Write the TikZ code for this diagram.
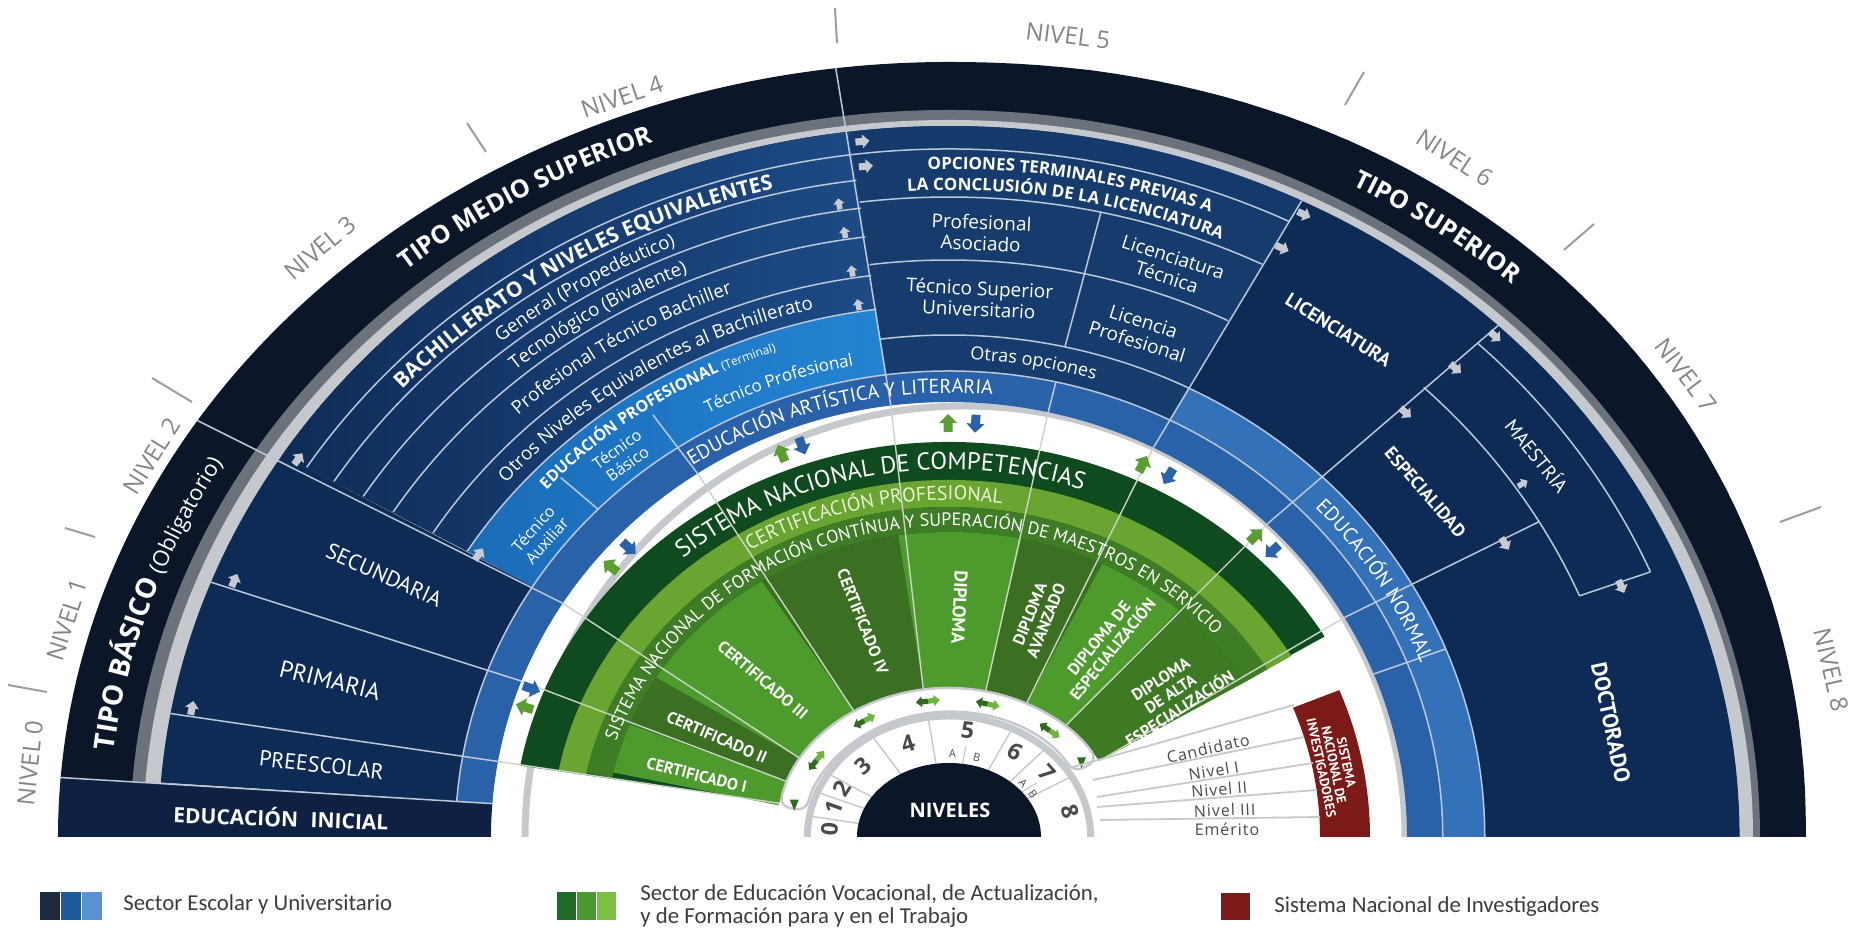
\documentclass[tikz,border=0pt]{standalone}
\usepackage{fontspec}
\setmainfont{Open Sans}
\newfontfamily\myriad{PT Sans}
\newfontfamily\calib{Carlito}
\usetikzlibrary{decorations.text,shapes.geometric}

\definecolor{ringdark}{HTML}{0B1628}
\definecolor{gmid}{HTML}{6B727C}
\definecolor{glight}{HTML}{C5C8CC}
\definecolor{inicial}{HTML}{0E2142}
\definecolor{navy}{HTML}{0E2B56}
\definecolor{bachL}{HTML}{0F2C58}
\definecolor{bachR}{HTML}{1D4B86}
\definecolor{bach}{HTML}{14396B}
\definecolor{cinco}{HTML}{163C6D}
\definecolor{profL}{HTML}{1A6CB8}
\definecolor{profR}{HTML}{2484D2}
\definecolor{blueM}{HTML}{2A62A9}
\definecolor{blueL}{HTML}{3371B8}
\definecolor{linecol}{HTML}{BCC8D8}
\definecolor{glinecol}{HTML}{C9D6C4}
\definecolor{gdark}{HTML}{0F4B1E}
\definecolor{glite}{HTML}{6AA532}
\definecolor{gband}{HTML}{3E7D25}
\definecolor{gsecA}{HTML}{4E9B2D}
\definecolor{gsecB}{HTML}{3B6F22}
\definecolor{gsecC}{HTML}{3E7A24}
\definecolor{sni}{HTML}{7B1A17}
\definecolor{nivgray}{HTML}{858585}
\definecolor{arrgray}{HTML}{C7CBD1}
\definecolor{arrgreen}{HTML}{5A9E32}
\definecolor{arrblue}{HTML}{2A62A9}
\definecolor{dgreenarr}{HTML}{2F6B1F}
\definecolor{lgreenarr}{HTML}{6DB33F}
\definecolor{txtgray}{HTML}{3C3C3C}
\definecolor{numgray}{HTML}{4A4A4A}
\definecolor{cpcol}{HTML}{EAF3D2}
\definecolor{legA}{HTML}{1C2A3F}
\definecolor{legB}{HTML}{1E5B9D}
\definecolor{legC}{HTML}{5B90D2}
\definecolor{legD}{HTML}{1F6A26}
\definecolor{legE}{HTML}{4B9A2F}
\definecolor{legF}{HTML}{7CC043}

% horizontal radius of the blue rings and of the green rings
\pgfmathdeclarefunction{kb}{1}{\pgfmathparse{#1*(0.96+0.00022*#1)}}
\pgfmathdeclarefunction{kg}{1}{\pgfmathparse{#1*(1.2-0.00025*#1)}}
% tangent and radial angle on the ellipse
\pgfmathdeclarefunction{tang}{2}{\pgfmathparse{atan2(-cos(#1),#2*sin(#1))}}
\pgfmathdeclarefunction{radi}{2}{\pgfmathparse{atan2(sin(#1),#2*cos(#1))}}

\newcommand\sect[6]{\fill[#6] (#2:{#1(#4)} and {#4}) arc[start angle=#2,end angle=#3,x radius={#1(#4)},y radius={#4}] -- (#3:{#1(#5)} and {#5}) arc[start angle=#3,end angle=#2,x radius={#1(#5)},y radius={#5}] -- cycle;}
\newcommand\barc[3]{\draw[bline] (#1:{kb(#3)} and {#3}) arc[start angle=#1,end angle=#2,x radius={kb(#3)},y radius={#3}];}
\newcommand\brad[3]{\draw[bline] (#1:{kb(#2)} and {#2}) -- (#1:{kb(#3)} and {#3});}
\newcommand\atext[6]{\path[decorate,decoration={text along path,text color=#5,text align=center,text={#6}}] (#2:{#1(#4)} and {#4}) arc[start angle=#2,end angle=#3,x radius={#1(#4)},y radius={#4}];}
% text on the outer ring: start, end, x radius, y radius, text
\newcommand\otext[5]{\path[decorate,decoration={text along path,text color=white,text align=center,text={#5}}] (#1:#3 and #4) arc[start angle=#1,end angle=#2,x radius=#3,y radius=#4];}

\newcommand\fTipo{\fontsize{12.5}{14}\selectfont\bfseries}
\newcommand\fTipoB{\fontsize{14}{16}\selectfont\bfseries}
\newcommand\fObl{\fontsize{11}{12}\selectfont\mdseries}
\newcommand\fBachH{\fontsize{10.5}{12}\selectfont\bfseries}
\newcommand\fBach{\fontsize{9.3}{11}\selectfont}
\newcommand\fEPb{\fontsize{8}{10}\selectfont\bfseries}
\newcommand\fEPs{\fontsize{6}{7}\selectfont\mdseries}
\newcommand\fTP{\fontsize{8.5}{10}\selectfont}
\newcommand\fOpc{\fontsize{8.5}{10}\selectfont\bfseries}
\newcommand\fOtras{\fontsize{9}{11}\selectfont}
\newcommand\fArt{\myriad\fontsize{10}{12}\selectfont}
\newcommand\fNorm{\myriad\fontsize{10.2}{12}\selectfont}
\newcommand\fSNC{\myriad\fontsize{12.2}{14}\selectfont}
\newcommand\fCP{\myriad\fontsize{9.9}{11}\selectfont}
\newcommand\fSNF{\myriad\fontsize{9}{10}\selectfont}

\tikzset{
  pics/grayarrow/.style={code={\fill[arrgray] (-7,-3.5) -- (0,-3.5) -- (0,-7) -- (7,0) -- (0,7) -- (0,3.5) -- (-7,3.5) -- cycle;}},
  pics/gaparrow/.style={code={\fill[#1] (-9,-4.5) -- (0,-4.5) -- (0,-9) -- (9,0) -- (0,9) -- (0,4.5) -- (-9,4.5) -- cycle;}},
  pics/halfarrow/.style={code={\fill[#1] (0,-2.6) -- (6,-2.6) -- (6,-5.5) -- (12,0) -- (6,5.5) -- (6,2.6) -- (0,2.6) -- cycle;}}
}

\begin{document}
\begin{tikzpicture}[x=0.5pt,y=0.5pt,
  bline/.style={draw=linecol,line width=0.75pt},
  gline/.style={draw=glinecol,line width=0.7pt},
  tick/.style={draw=nivgray!80,line width=1pt},
  nivel/.style={text=nivgray,font=\fontsize{12}{14}\selectfont,inner sep=0pt},
  wtxt/.style={text=white,font=\fontsize{9.5}{10.5}\selectfont,align=center,inner sep=0pt},
  caplab/.style={text=white,font=\myriad\fontsize{11}{13}\selectfont,inner sep=0pt},
  boldlab/.style={text=white,font=\myriad\bfseries\fontsize{10}{12}\selectfont,inner sep=0pt},
  seclab/.style={text=white,font=\myriad\bfseries\fontsize{8.2}{8.8}\selectfont,align=center,inner sep=0pt},
  numlab/.style={text=numgray,font=\bfseries\fontsize{11.5}{12}\selectfont,inner sep=0pt},
  sniline/.style={draw=glight,line width=0.9pt},
  snilab/.style={text=numgray,font=\addfontfeatures{LetterSpace=6}\fontsize{8}{9}\selectfont,inner sep=1pt,anchor=south},
  legtxt/.style={text=txtgray,font=\calib\fontsize{11.4}{11.4}\selectfont,anchor=west,align=left,inner sep=0pt}]
	\useasboundingbox (-949,-92) rectangle (909,837);

	%Shape: outer ring (dark, gray, light gray), wider on the left, fuller on the upper right
	\fill[ringdark] (0,0) -- plot[domain=0:89,samples=60] ({857*abs(cos(\x))^(0.952)},{775*abs(sin(\x))^(0.952)}) -- (0,775) arc[start angle=90,end angle=175.6,x radius=891,y radius=775] -- cycle;
	\fill[gmid] (0,0) -- (811,0) arc[start angle=0,end angle=90,x radius=811,y radius=727] arc[start angle=90,end angle=175.6,x radius=819,y radius=727] -- cycle;
	\fill[glight] (0,0) -- (804,0) arc[start angle=0,end angle=90,x radius=804,y radius=717] arc[start angle=90,end angle=175.6,x radius=806,y radius=717] -- cycle;
	\fill[white] ({kb(435)},0) arc[start angle=0,end angle=180,x radius={kb(435)},y radius=435] -- cycle;
	%Shape: educacion inicial block
	\fill[inicial] (175.6:{kb(435)} and 435) -- (175.6:891 and 775) arc[start angle=175.6,end angle=180,x radius=891,y radius=775] -- ({-kb(435)},0) arc[start angle=180,end angle=175.6,x radius={kb(435)},y radius=435] -- cycle;
	%Shape: light gray separator ring
	\draw[glight,line width=3.5pt] (456,0) arc[start angle=0,end angle=180,x radius=440,y radius=431];

	%Shape: blue cells
	\sect{kb}{147.5}{175.6}{466}{711}{navy}
	\sect{kb}{97.3}{147.5}{532}{711}{left color=bachL,right color=bachR}
	\sect{kb}{97.3}{147.5}{466}{532}{left color=profL,right color=profR}
	\sect{kb}{63.5}{97.3}{466}{711}{cinco}
	\sect{kb}{63.5}{97.3}{688}{711}{bach}
	\sect{kb}{0}{63.5}{502}{711}{navy}
	\sect{kb}{0}{63.5}{466}{502}{blueL}
	\sect{kb}{0}{175.6}{435}{466}{blueM}

	%Straight Lines: arcs between the bands
	\barc{63.5}{147.5}{688}
	\foreach \r in {662,634,605,566,532} {\barc{97.3}{147.5}{\r}}
	\barc{63.5}{97.3}{640}
	\barc{63.5}{97.3}{577}
	\barc{0}{97.3}{502}
	\barc{0}{175.6}{466}
	\barc{22.7}{46}{625}
	\barc{22.7}{46}{687}
	%Straight Lines: radial dividers
	\foreach \a in {175.6,147.5,97.3}
	  \draw[bline] (\a:{kb(435)} and 435) -- (\a:891 and 775);
	\brad{170}{435}{711}
	\brad{159}{435}{711}
	\brad{135.3}{466}{511}
	\brad{123.3}{435}{505}
	\brad{77.5}{435}{466}
	\brad{77.5}{502}{640}
	\brad{63.5}{435}{711}
	\brad{46}{435}{711}
	\brad{30.3}{435}{625}
	\brad{22}{435}{502}
	\brad{22.7}{625}{687}

	%Straight Lines: level ticks
	\foreach \xa/\ya/\xb/\yb in {-941/152/-902/145,-884/309/-854/300,-797/459/-757/435,-482/714/-463/685,-114/829/-112/794,415/765/396/732,645/613/615/587,872/330/831/315}
	  \draw[tick] (\xa,\ya) -- (\xb,\yb);
	% Text Node: levels
	\foreach \x/\y/\t/\n in {-919/74/84/0,-882/217/72/1,-797/381/58/2,-629/589/40/3,-327/740/19/4,119/801/-7/5,506/679/-33/6,737/462/-53/7,882/167/-77/8}
	  \node[nivel,rotate=\t] (nivel\n) at (\x,\y) {NIVEL \n};

	% Text Node: ring titles
	\otext{175.6}{147.5}{841}{741}{|\fTipoB|TIPO BÁSICO |\fObl|(Obligatorio)}
	\otext{135.5}{105.5}{841}{742}{|\fTipo|TIPO MEDIO SUPERIOR}
	\otext{73}{36}{844}{742}{|\fTipo|TIPO SUPERIOR}

	% Text Node: bachillerato bands
	\atext{kb}{143}{99}{667.5}{white}{|\fBachH|BACHILLERATO Y NIVELES EQUIVALENTES}
	\atext{kb}{144.5}{98.5}{641.5}{white}{|\fBach|General (Propedéutico)}
	\atext{kb}{145}{99}{613}{white}{|\fBach|Tecnológico (Bivalente)}
	\atext{kb}{145}{99}{579}{white}{|\fBach|Profesional Técnico Bachiller}
	\atext{kb}{145}{98}{542.5}{white}{|\fBach|Otros Niveles Equivalentes al Bachillerato}
	\atext{kb}{145}{101}{512}{white}{|\fEPb|EDUCACIÓN PROFESIONAL |\fEPs|(Terminal)}
	\atext{kb}{122}{97}{480}{white}{|\fTP|Técnico Profesional}
	% Text Node
	\node[wtxt,font=\fontsize{8}{9}\selectfont,rotate={tang(128.9,1.12)}] (tecbas) at (128.9:{kb(489)} and 489) {Técnico\\Básico};
	% Text Node
	\node[wtxt,font=\fontsize{8}{9}\selectfont,rotate={tang(141.8,1.12)}] (tecaux) at (141.8:{kb(489)} and 489) {Técnico\\Auxiliar};

	% Text Node: nivel 5 block
	\atext{kb}{97.3}{63.5}{668}{white}{|\fOpc|OPCIONES TERMINALES PREVIAS A}
	\atext{kb}{97.3}{63.5}{647}{white}{|\fOpc|LA CONCLUSIÓN DE LA LICENCIATURA}
	\node[wtxt,rotate={tang(87.2,1.12)}] (profasoc) at (87.2:{kb(605)} and 605) {Profesional\\Asociado};
	\node[wtxt,rotate={tang(70.4,1.12)}] (lictec) at (70.4:{kb(605)} and 605) {Licenciatura\\Técnica};
	\node[wtxt,rotate={tang(87,1.12)}] (tsu) at (87:{kb(539)} and 539) {Técnico Superior\\Universitario};
	\node[wtxt,rotate={tang(70.6,1.12)}] (licprof) at (70.6:{kb(536)} and 536) {Licencia\\Profesional};
	\atext{kb}{97.3}{63.5}{477.5}{white}{|\fOtras|Otras opciones}

	% Text Node: inner blue rings
	\atext{kb}{128}{80}{444}{white}{|\fArt|EDUCACIÓN ARTÍSTICA Y LITERARIA}
	\atext{kb}{47}{18}{477}{white}{|\fNorm|EDUCACIÓN NORMAL}

	% Text Node: basic levels
	\node[caplab,rotate={radi(153.3,1.12)-180}] (secundaria) at (153.3:{kb(583)} and 583) {SECUNDARIA};
	\node[caplab,font=\myriad\fontsize{12}{14}\selectfont,rotate={radi(164.6,1.12)-180}] (primaria) at (164.6:{kb(591)} and 591) {PRIMARIA};
	\node[caplab,rotate={radi(172.9,1.12)-180}] (preescolar) at (172.9:{kb(583)} and 583) {PREESCOLAR};
	\node[text=white,font=\bfseries\fontsize{10.5}{12}\selectfont,rotate=-2,inner sep=0pt] (inicialtxt) at (-668,20) {EDUCACIÓN\hspace{0.6em}INICIAL};

	% Text Node: superior levels
	\node[boldlab,font=\myriad\bfseries\fontsize{9.6}{11}\selectfont,rotate={tang(54.9,1.12)}] (licenciatura) at (54.9:{kb(620)} and 620) {LICENCIATURA};
	\node[boldlab,font=\myriad\bfseries\fontsize{9}{11}\selectfont,rotate={tang(38,1.12)}] (especialidad) at (38:{kb(560)} and 560) {ESPECIALIDAD};
	\node[boldlab,font=\myriad\fontsize{9.8}{11}\selectfont,rotate={tang(35.5,1.12)}] (maestria) at (35.5:{kb(657)} and 657) {MAESTRÍA};
	\node[boldlab,font=\myriad\bfseries\fontsize{11}{13}\selectfont,rotate={tang(10.7,1.12)}] (doctorado) at (10.7:{kb(617)} and 617) {DOCTORADO};

	%Shape: gray arrows between levels
	\foreach \a/\r in {169.3/695,158.3/694,147.2/698,147.2/522,96.4/700,96.4/675,62.8/700,62.8/662,45.5/702,45.5/657,45.3/597,29.8/590,22.3/660}
	  \pic[rotate={tang(\a,1.12)}] at (\a:{kb(\r)} and \r) {grayarrow};
	\foreach \a/\r in {99/641,99/612,99/573,99/539,34/632}
	  \pic[rotate={radi(\a,1.12)},scale=0.8] at (\a:{kb(\r)} and \r) {grayarrow};

	%Shape: green fan
	\fill[gdark] (30.5:{kg(150)} and 150) -- (30.5:{kg(395)} and 395) arc[start angle=30.5,end angle=169.6,x radius={kg(395)},y radius=395] -- (167:{kg(150)} and 150) arc[start angle=167,end angle=30.5,x radius={kg(150)},y radius=150] -- cycle;
	\sect{kg}{30.5}{169.2}{330}{357}{glite}
	\sect{kg}{30.5}{168.8}{305}{330}{gband}
	\sect{kg}{158.3}{167.8}{150}{305}{gsecA}
	\sect{kg}{148.5}{158.3}{150}{305}{gsecB}
	\sect{kg}{123}{148.5}{150}{305}{gsecA}
	\sect{kg}{98.5}{123}{150}{305}{gsecB}
	\sect{kg}{77.8}{98.5}{150}{305}{gsecA}
	\sect{kg}{63.5}{77.8}{150}{305}{gsecB}
	\sect{kg}{48}{63.5}{150}{305}{gsecA}
	\sect{kg}{30.5}{48}{150}{305}{gsecC}
	%Straight Lines: dividers through the green
	\foreach \p/\q in {167/170,158.3/159,148.5/147.5,123/123.3,98.5/97.3,77.8/77.5,63.5/63.5,48/46,30.5/30.3}
	  \draw[gline] (\p:{kg(150)} and 150) -- (\q:{kb(435)} and 435);

	% Text Node: green bands
	\atext{kg}{158}{44.6}{367.5}{white}{|\fSNC|SISTEMA NACIONAL DE COMPETENCIAS}
	\atext{kg}{147}{57.8}{337}{cpcol}{|\fCP|CERTIFICACIÓN PROFESIONAL}
	\atext{kg}{172}{31}{311}{white}{|\fSNF|SISTEMA NACIONAL DE FORMACIÓN CONTÍNUA Y SUPERACIÓN DE MAESTROS EN SERVICIO}
	% Text Node: green sectors
	\node[seclab,rotate={radi(164.3,1.14)-180}] (cert1) at (164.3:{kg(229)} and 229) {CERTIFICADO I};
	\node[seclab,rotate={radi(153.8,1.14)-180}] (cert2) at (153.8:{kg(226)} and 226) {CERTIFICADO II};
	\node[seclab,rotate={radi(136,1.14)-180}] (cert3) at (136:{kg(226)} and 226) {CERTIFICADO III};
	\node[seclab,rotate={radi(109.3,1.14)-180}] (cert4) at (109.3:{kg(228)} and 228) {CERTIFICADO IV};
	\node[seclab,font=\myriad\bfseries\fontsize{9.2}{10}\selectfont,rotate={radi(87.7,1.14)-180}] (diploma) at (87.7:{kg(230)} and 230) {DIPLOMA};
	\node[seclab,rotate={radi(70.5,1.14)}] (dipav) at (70.5:{kg(233)} and 233) {DIPLOMA\\AVANZADO};
	\node[seclab,rotate={radi(54.6,1.14)}] (dipesp) at (54.6:{kg(237)} and 237) {DIPLOMA DE\\ESPECIALIZACIÓN};
	\node[seclab,rotate={radi(36.4,1.14)}] (dipalta) at (36.4:{kg(241)} and 241) {DIPLOMA\\DE ALTA\\ESPECIALIZACIÓN};

	%Shape: green and blue arrows in the white gap
	\foreach \g/\b in {161.7/159,139.2/135.7,112/109.2,90.1/86.6,64.3/60.6,46.7/43.7}{
	  \pic[rotate={radi(\g,1.08)}] at (\g:{1.08*414} and 414) {gaparrow=arrgreen};
	  \pic[rotate={radi(\b,1.08)+180}] at (\b:{1.08*414} and 414) {gaparrow=arrblue};
	}

	%Shape: track of double arrows
	\draw[draw=glight,line width=1.2pt,fill=white,rounded corners=5pt] (31:{kg(125)} and 125) arc[start angle=31,end angle=168,x radius={kg(125)},y radius=125] -- (168:{kg(149)} and 149) arc[start angle=168,end angle=31,x radius={kg(149)},y radius=149] -- cycle;
	\foreach \a in {146,122,97.6,76,51}{
	  \pic[rotate={tang(\a,1.17)}] at (\a:{kg(137)} and 137) {halfarrow=lgreenarr};
	  \pic[rotate={tang(\a,1.17)+180}] at (\a:{kg(137)} and 137) {halfarrow=dgreenarr};
	}
	\node[isosceles triangle,fill=dgreenarr,shape border rotate=-90,minimum width=4.5pt,minimum height=4pt,inner sep=0pt] (triL) at (165.5:{kg(137)} and 137) {};
	\node[isosceles triangle,fill=dgreenarr,shape border rotate=-90,minimum width=4.5pt,minimum height=4pt,inner sep=0pt] (triR) at (34:{kg(137)} and 137) {};

	%Shape: numbers ring
	\fill[white] ({kg(121)},0) arc[start angle=0,end angle=180,x radius={kg(121)},y radius=121] -- cycle;
	\foreach \a in {170,158.3,148.5,123,98.5,63.5,47,30}
	  \draw[draw=glight,line width=0.7pt] (\a:{kg(70)} and 70) -- (\a:{kg(121)} and 121);
	\draw[draw=glight,line width=0.6pt] (81:{kg(70)} and 70) -- (81:{kg(92)} and 92);
	\draw[draw=glight,line width=0.6pt] (36:{kg(70)} and 70) -- (36:{kg(92)} and 92);
	\draw[glight,line width=3.5pt] ({kg(121)},0) arc[start angle=0,end angle=180,x radius={kg(121)},y radius=121];
	\fill[ringdark] (92,0) arc[start angle=0,end angle=180,x radius=92,y radius=74] -- cycle;
	% Text Node
	\node[text=white,font=\bfseries\fontsize{10}{12}\selectfont,inner sep=0pt] (niveles) at (1,27) {NIVELES};
	% Text Node: numbers
	\foreach \a/\n/\r in {175.5/0/102,163/1/102,152/2/103,135.5/3/102,110.5/4/100,81.5/5/108,56.5/6/102,37.6/7/105,14/8/106}
	  \node[numlab,rotate={tang(\a,1.17)}] (num\n) at (\a:{kg(\r)} and \r) {\n};
	\foreach \a/\t/\n in {88/A/5a,73.5/B/5b,40.7/A/7a,31/B/7b}
	  \node[text=numgray,font=\fontsize{5.5}{6}\selectfont,inner sep=0pt,rotate={tang(\a,1.17)}] (sub\n) at (\a:{kg(83)} and 83) {\t};

	%Shape: sistema nacional de investigadores
	\fill[sni] (371,0) arc[start angle=0,end angle=22,x radius=371,y radius=345] -- (22:421 and 392) arc[start angle=22,end angle=0,x radius=421,y radius=392] -- cycle;
	\node[text=white,font=\myriad\bfseries\fontsize{6.6}{6.4}\selectfont,align=center,inner sep=0pt,rotate=-78] (snitxt) at (385,72) {SISTEMA\\NACIONAL DE\\INVESTIGADORES};
	\draw[sniline] (124,70) -- (345,132);
	\draw[sniline] (144,57) -- (355,100);
	\draw[sniline] (148,40) -- (364,74);
	\draw[sniline] (148,30) -- (368,47);
	\draw[sniline] (151,17) -- (371,20);
	% Text Node
	\node[snilab,rotate=13] (candidato) at (261,80) {Candidato};
	\node[snilab,rotate=9] (nivelI) at (266,58) {Nivel I};
	\node[snilab,rotate=5] (nivelII) at (271,39) {Nivel II};
	\node[snilab,rotate=2] (nivelIII) at (276,18.5) {Nivel III};
	\node[snilab,rotate=0.5] (emerito) at (278,-1) {Emérito};

	%Shape: legend
	\fill[legA] (-909,-55) rectangle (-889,-83);
	\fill[legB] (-888,-55) rectangle (-868,-83);
	\fill[legC] (-867,-55) rectangle (-847,-83);
	\node[legtxt] (legesc) at (-826,-67) {Sector Escolar y Universitario};
	\fill[legD] (-392,-55) rectangle (-373,-83);
	\fill[legE] (-372,-55) rectangle (-353,-83);
	\fill[legF] (-352,-55) rectangle (-333,-83);
	\node[legtxt] (legvoc) at (-309,-69) {Sector de Educación Vocacional, de Actualización,\\y de Formación para y en el Trabajo};
	\fill[sni] (272,-56) rectangle (301,-83);
	\node[legtxt] (legsni) at (325,-70) {Sistema Nacional de Investigadores};
\end{tikzpicture}
\end{document}
